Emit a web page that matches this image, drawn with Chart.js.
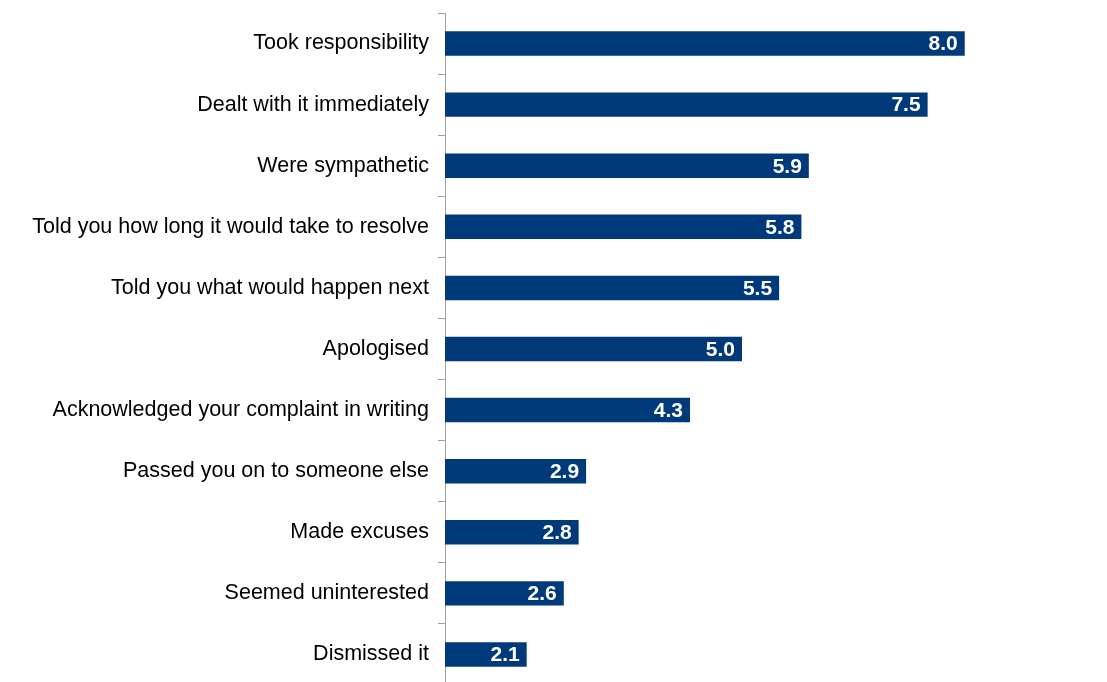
<!DOCTYPE html>
<html>
<head>
<meta charset="utf-8">
<script src="https://cdn.jsdelivr.net/npm/chart.js@4"></script>
<style>
html,body{margin:0;padding:0;background:#fff;overflow:hidden;}
#wrap{width:1107px;height:682px;position:relative;overflow:hidden;}
</style>
</head>
<body>
<div id="wrap"><canvas id="c" width="1107" height="685"></canvas></div>
<script>
const categories = [
  "Took responsibility",
  "Dealt with it immediately",
  "Were sympathetic",
  "Told you how long it would take to resolve",
  "Told you what would happen next",
  "Apologised",
  "Acknowledged your complaint in writing",
  "Passed you on to someone else",
  "Made excuses",
  "Seemed uninterested",
  "Dismissed it"
];
const values = [8.0, 7.5, 5.9, 5.8, 5.5, 5.0, 4.3, 2.9, 2.8, 2.6, 2.1];
const axisMin = 1;
const axisMax = 9;

const valueLabels = {
  id: 'valueLabels',
  afterDatasetsDraw(chart) {
    const ctx = chart.ctx;
    const meta = chart.getDatasetMeta(0);
    ctx.save();
    ctx.fillStyle = '#ffffff';
    ctx.font = 'bold 21px "Liberation Sans", Arial, sans-serif';
    ctx.textAlign = 'right';
    ctx.textBaseline = 'middle';
    meta.data.forEach((bar, i) => {
      ctx.fillText(values[i].toFixed(1), bar.x - 7, bar.y + 1);
    });
    ctx.restore();
  }
};

new Chart(document.getElementById('c'), {
  type: 'bar',
  data: {
    labels: categories,
    datasets: [{
      data: values,
      backgroundColor: '#003a7a',
      borderWidth: 0,
      categoryPercentage: 1.0,
      barPercentage: 0.4
    }]
  },
  options: {
    indexAxis: 'y',
    responsive: false,
    animation: false,
    layout: { padding: { top: 13, right: 68, bottom: 0, left: 0 } },
    plugins: { legend: { display: false }, tooltip: { enabled: false } },
    scales: {
      x: { display: false, min: axisMin, max: axisMax },
      y: {
        afterFit(scale) { scale.width = 445; scale.paddingTop = 0; scale.paddingBottom = 0; },
        grid: {
          offset: true,
          drawOnChartArea: false,
          drawTicks: true,
          tickLength: 7,
          color: '#a0a0a0',
          lineWidth: 1
        },
        border: { display: true, color: '#a0a0a0', width: 1 },
        ticks: {
          color: '#000000',
          padding: 9,
          font: { family: '"Liberation Sans", Arial, sans-serif', size: 21.5 }
        }
      }
    }
  },
  plugins: [valueLabels]
});
</script>
</body>
</html>
